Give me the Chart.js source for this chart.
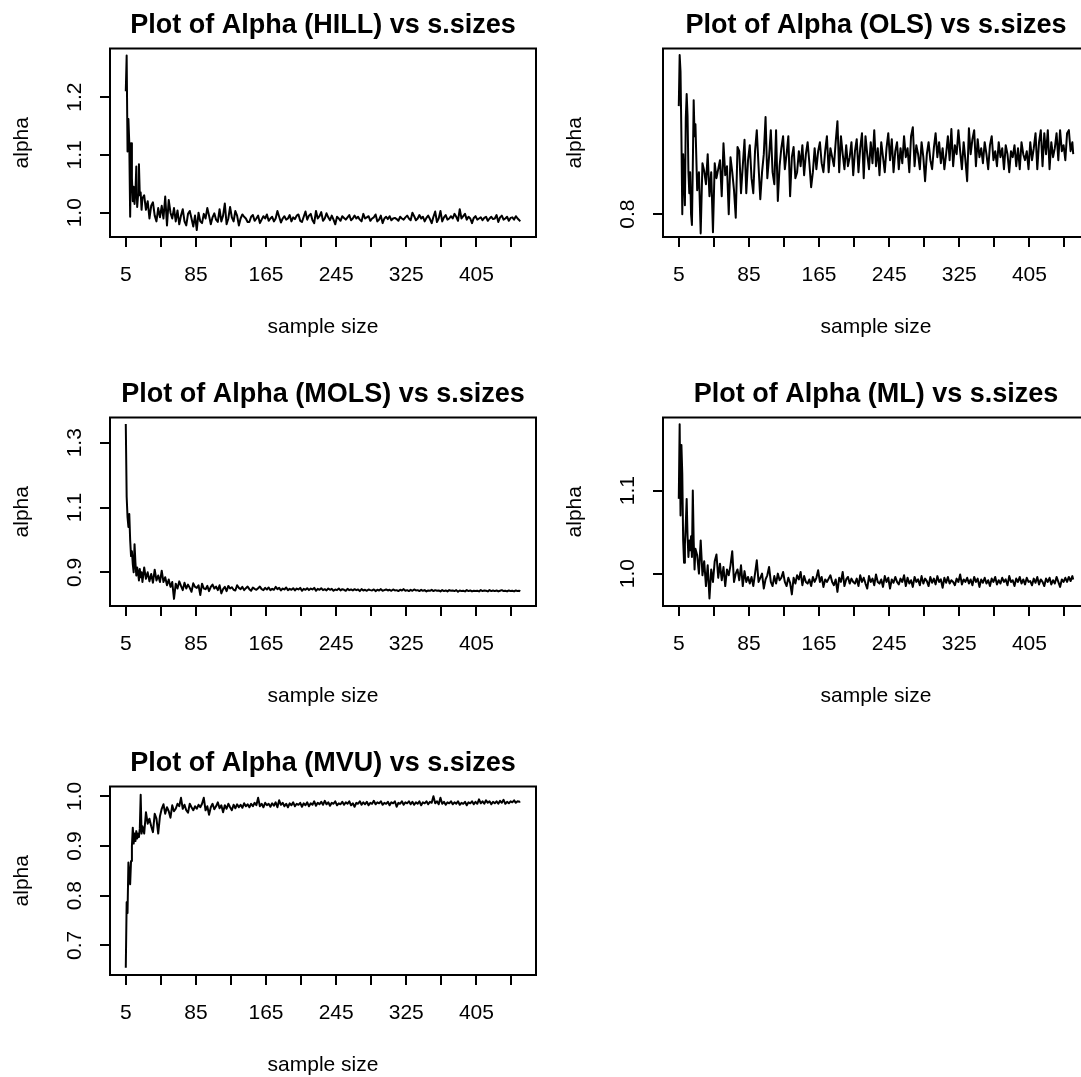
<!DOCTYPE html>
<html>
<head>
<meta charset="utf-8">
<title>Alpha vs s.sizes</title>
<script src="https://cdn.jsdelivr.net/npm/chart.js@4.4.1/dist/chart.umd.min.js"></script>
<style>
  html, body { margin: 0; padding: 0; background: #fff; overflow: hidden; }
  #lienzo { position: relative; width: 1081px; height: 1077px; overflow: hidden; background: #fff; }
  canvas { position: absolute; }
</style>
</head>
<body>
<div id="lienzo">
  <canvas id="pHill" width="545" height="369" style="left:0px;top:0px"></canvas>
  <canvas id="pOls" width="545" height="369" style="left:553px;top:0px"></canvas>
  <canvas id="pMols" width="545" height="369" style="left:0px;top:369px"></canvas>
  <canvas id="pMl" width="545" height="369" style="left:553px;top:369px"></canvas>
  <canvas id="pMvu" width="545" height="369" style="left:0px;top:738px"></canvas>
</div>
<script>
// Tamaños de muestra (eje x)
const tamanosMuestra = [
  5, 6, 7, 8, 9, 10, 11, 12, 13, 14,
  15, 16, 17, 18, 19, 20, 21, 22, 23, 24,
  26, 28, 30, 32, 34, 36, 38, 40, 42, 44,
  46, 48, 50, 52, 54, 56, 58, 60, 62, 64,
  66, 68, 70, 72, 74, 76, 78, 80, 82, 84,
  86, 88, 90, 92, 94, 96, 98, 100, 102, 104,
  106, 108, 110, 112, 114, 116, 118, 120, 122, 124,
  126, 128, 130, 132, 134, 136, 138, 140, 142, 144,
  146, 148, 150, 152, 154, 156, 158, 160, 162, 164,
  166, 168, 170, 172, 174, 176, 178, 180, 182, 184,
  186, 188, 190, 192, 194, 196, 198, 200, 202, 204,
  206, 208, 210, 212, 214, 216, 218, 220, 222, 224,
  226, 228, 230, 232, 234, 236, 238, 240, 242, 244,
  246, 248, 250, 252, 254, 256, 258, 260, 262, 264,
  266, 268, 270, 272, 274, 276, 278, 280, 282, 284,
  286, 288, 290, 292, 294, 296, 298, 300, 302, 304,
  306, 308, 310, 312, 314, 316, 318, 320, 322, 324,
  326, 328, 330, 332, 334, 336, 338, 340, 342, 344,
  346, 348, 350, 352, 354, 356, 358, 360, 362, 364,
  366, 368, 370, 372, 374, 376, 378, 380, 382, 384,
  386, 388, 390, 392, 394, 396, 398, 400, 402, 404,
  406, 408, 410, 412, 414, 416, 418, 420, 422, 424,
  426, 428, 430, 432, 434, 436, 438, 440, 442, 444,
  446, 448, 450, 452, 454,
  455
];

// Estimaciones de alpha
const alphaHill = [
  1.21, 1.272, 1.106, 1.162, 1.12, 0.993, 1.12, 1.06, 1.02, 1.045,
  1.015, 1.035, 1.08, 1.01, 1.03, 1.084, 1.03, 1.035, 1.005, 1.025,
  1.03, 1.005, 1.02, 0.99, 1.012, 1.018, 0.995, 0.985, 1.008, 0.992,
  1.012, 0.99, 1.028, 0.978, 1.022, 1.0, 0.99, 1.008, 0.985, 1.004,
  0.98, 0.995, 1.006, 0.985, 0.978, 0.998, 1.003, 0.99, 0.976, 0.995,
  0.97, 1.0, 0.985, 0.982, 0.998, 0.99, 1.008, 0.995, 0.98, 0.992,
  0.999, 0.988, 0.984, 1.006, 0.985, 0.995, 1.016, 0.98, 0.99, 1.01,
  0.992, 0.985, 1.003, 0.995, 0.978, 0.99, 0.997, 0.993, 0.99, 0.984,
  0.984, 0.993, 0.996, 0.986, 0.99, 0.995, 0.982, 0.988, 0.994, 0.99,
  0.997, 0.986, 0.99, 0.993, 0.985, 0.99, 1.003, 0.993, 0.983, 0.99,
  0.994, 0.988, 0.99, 0.996, 0.985, 0.992, 0.989, 0.995, 0.997, 0.986,
  0.984, 0.993, 1.002, 0.988, 0.995, 0.998, 0.987, 0.982, 1.003, 0.99,
  0.994, 1.001, 0.986, 0.99, 0.999, 0.992, 0.987, 0.995, 0.988, 0.98,
  0.993, 0.99, 0.986, 0.994, 0.991, 0.988, 0.992, 0.996, 0.987, 0.99,
  0.995, 0.99, 0.993, 0.988, 0.985, 0.998, 0.99, 0.992, 0.994, 0.986,
  0.99, 0.992, 0.997, 0.985, 0.988, 0.995, 0.982, 0.99, 0.993, 0.989,
  0.994, 0.987, 0.99, 0.991, 0.989, 0.986, 0.993, 0.99, 0.988, 0.992,
  0.995, 0.99, 0.987, 1.0, 0.994, 0.987, 0.99, 0.996, 0.99, 0.993,
  0.985, 0.991, 0.995, 0.989, 0.982, 0.993, 1.002, 0.984, 0.99, 1.003,
  0.985, 0.992, 0.996, 0.988, 0.99, 0.994, 0.99, 0.998, 0.993, 0.986,
  1.006, 0.99, 0.994, 0.998, 0.988, 0.993, 0.99, 0.982, 0.991, 0.994,
  0.988, 0.99, 0.992, 0.987, 0.991, 0.993, 0.986, 0.99, 0.993, 0.989,
  0.99, 0.996, 0.984, 0.992, 0.995, 0.988, 0.99, 0.993, 0.986, 0.991,
  0.992, 0.988, 0.994, 0.99, 0.987,
  0.985
];

const alphaOls = [
  0.98, 1.065, 1.037, 0.93, 0.80, 0.90, 0.86, 0.815, 0.96, 1.0,
  0.964, 0.87, 0.835, 0.87, 0.80, 0.782, 0.88, 0.99, 0.93, 0.95,
  0.84, 0.87, 0.768, 0.885, 0.872, 0.85, 0.90, 0.83, 0.87, 0.77,
  0.885, 0.86, 0.875, 0.89, 0.83, 0.918, 0.865, 0.88, 0.80, 0.895,
  0.87, 0.84, 0.794, 0.912, 0.905, 0.835, 0.88, 0.924, 0.835, 0.89,
  0.915, 0.86, 0.835, 0.905, 0.94, 0.88, 0.825, 0.87, 0.90, 0.962,
  0.86, 0.895, 0.94, 0.87, 0.85, 0.94, 0.822, 0.88, 0.91, 0.93,
  0.875, 0.90, 0.93, 0.83, 0.895, 0.912, 0.86, 0.87, 0.905, 0.88,
  0.915, 0.865, 0.90, 0.92, 0.885, 0.845, 0.87, 0.91, 0.875, 0.905,
  0.92, 0.885, 0.87, 0.905, 0.93, 0.87, 0.91, 0.895, 0.88, 0.92,
  0.955, 0.87, 0.93, 0.90, 0.875, 0.915, 0.88, 0.895, 0.92, 0.865,
  0.905, 0.925, 0.87, 0.91, 0.935, 0.86, 0.93, 0.90, 0.875, 0.92,
  0.885, 0.94, 0.88, 0.91, 0.865, 0.92, 0.895, 0.87, 0.91, 0.935,
  0.89, 0.925, 0.87, 0.905, 0.92, 0.875, 0.91, 0.885, 0.93, 0.895,
  0.91, 0.87, 0.93, 0.945, 0.88, 0.915, 0.90, 0.875, 0.92, 0.895,
  0.855, 0.90, 0.92, 0.89, 0.875, 0.91, 0.935, 0.895, 0.92, 0.885,
  0.91, 0.875, 0.90, 0.93, 0.89, 0.942, 0.88, 0.915, 0.90, 0.94,
  0.905, 0.875, 0.92, 0.89, 0.855, 0.943, 0.90, 0.925, 0.94, 0.88,
  0.925, 0.895, 0.91, 0.885, 0.92, 0.90, 0.875, 0.915, 0.93, 0.89,
  0.905, 0.88, 0.92, 0.895, 0.91, 0.875, 0.915, 0.90, 0.87, 0.905,
  0.895, 0.915, 0.88, 0.91, 0.875, 0.92, 0.90, 0.89, 0.905, 0.875,
  0.92, 0.89, 0.91, 0.935, 0.875, 0.92, 0.94, 0.88, 0.935, 0.90,
  0.94, 0.875, 0.92, 0.895, 0.91, 0.935, 0.89, 0.94, 0.905, 0.915,
  0.89, 0.935, 0.94, 0.905, 0.92,
  0.90
];

const alphaMols = [
  1.358, 1.134, 1.07, 1.04, 1.08, 1.0, 0.95, 0.965, 0.925, 0.90,
  0.987, 0.93, 0.89, 0.915, 0.90, 0.875, 0.91, 0.885, 0.90, 0.87,
  0.915, 0.88, 0.90, 0.872, 0.895, 0.868, 0.908, 0.875, 0.89, 0.87,
  0.905, 0.87, 0.885, 0.86, 0.878, 0.855, 0.87, 0.818, 0.865, 0.85,
  0.872, 0.858, 0.845, 0.868, 0.85, 0.862, 0.852, 0.84, 0.866, 0.855,
  0.852, 0.86, 0.83, 0.865, 0.85, 0.848, 0.858, 0.842, 0.855, 0.862,
  0.85, 0.856, 0.845, 0.86, 0.835, 0.848, 0.855, 0.842, 0.858, 0.85,
  0.854, 0.846, 0.844, 0.86, 0.852, 0.848, 0.855, 0.845, 0.851, 0.856,
  0.848, 0.843, 0.853, 0.849, 0.846, 0.851, 0.856, 0.848, 0.845, 0.852,
  0.847, 0.853, 0.845, 0.849, 0.846, 0.855, 0.848, 0.852, 0.844, 0.85,
  0.847, 0.853, 0.845, 0.849, 0.846, 0.851, 0.844, 0.85, 0.847, 0.852,
  0.843, 0.849, 0.846, 0.851, 0.845, 0.85, 0.847, 0.852, 0.843, 0.849,
  0.846, 0.851, 0.845, 0.848, 0.844, 0.85, 0.846, 0.849, 0.843, 0.847,
  0.845, 0.85, 0.844, 0.848, 0.846, 0.843, 0.849, 0.845, 0.847, 0.844,
  0.848, 0.845, 0.847, 0.842, 0.848, 0.844, 0.846, 0.843, 0.847, 0.845,
  0.844, 0.847, 0.842, 0.846, 0.844, 0.848, 0.843, 0.845, 0.847, 0.844,
  0.846, 0.843, 0.847, 0.844, 0.845, 0.842, 0.846, 0.844, 0.848, 0.843,
  0.845, 0.842, 0.846, 0.843, 0.847, 0.844, 0.845, 0.842, 0.846, 0.843,
  0.845, 0.841, 0.844, 0.843, 0.846, 0.842, 0.845, 0.843, 0.844, 0.841,
  0.845, 0.842, 0.844, 0.841, 0.845, 0.843, 0.844, 0.842, 0.845, 0.84,
  0.844, 0.842, 0.843, 0.841, 0.845, 0.842, 0.844, 0.841, 0.843, 0.842,
  0.843, 0.841, 0.845, 0.842, 0.844, 0.843, 0.841, 0.845, 0.842, 0.844,
  0.842, 0.844, 0.841, 0.843, 0.845, 0.842, 0.843, 0.841, 0.844, 0.842,
  0.843, 0.841, 0.844, 0.842, 0.843,
  0.841
];

const alphaMl = [
  1.09, 1.18, 1.07, 1.155, 1.12, 1.04, 1.013, 1.035, 1.06, 1.09,
  1.045, 1.02, 1.04, 1.028, 1.045, 1.02, 1.10, 1.04, 1.005, 1.03,
  1.022, 1.0, 1.04, 0.998, 1.015, 0.985, 1.01, 0.97, 1.005, 0.99,
  1.015, 1.023, 0.995, 1.012, 0.992, 1.008, 0.985, 1.005, 0.998, 1.01,
  1.027, 0.99, 1.0, 1.005, 0.992, 1.01, 0.985, 1.003, 0.99, 0.996,
  0.988, 0.996, 0.985, 1.0, 1.016, 0.99, 0.995, 1.0, 0.982, 0.993,
  0.998, 1.008, 0.99, 0.985, 0.997, 0.988, 1.0, 0.992, 0.995, 1.002,
  0.99, 0.985, 0.995, 0.989, 0.975, 0.995, 0.988, 0.998, 0.993, 1.002,
  0.986, 0.997, 0.99, 0.988, 0.993, 0.985, 0.996, 0.99, 0.995, 1.004,
  0.99, 0.996, 0.984, 0.993, 0.99, 0.994, 0.998, 0.99, 0.986, 0.993,
  0.978, 0.995, 0.99, 1.002, 0.985, 0.993, 0.996, 0.988, 0.994, 0.99,
  0.988, 0.994, 0.985, 0.998, 0.99, 0.995, 0.988, 0.982, 0.997, 0.99,
  0.994, 0.986, 0.999, 0.99, 0.988, 0.993, 0.984, 0.997, 0.99, 0.995,
  0.982, 0.993, 0.989, 0.996, 0.99, 0.987, 0.994, 0.99, 0.998, 0.985,
  0.995, 0.988, 0.992, 0.984, 0.996, 0.99, 0.993, 0.986, 0.997, 0.988,
  0.994, 0.991, 0.985, 0.996, 0.989, 0.994, 0.987, 0.997, 0.99, 0.993,
  0.983, 0.995, 0.989, 0.996, 0.988, 0.992, 0.99, 0.986, 0.994, 0.99,
  0.999, 0.987, 0.993, 0.99, 0.995, 0.988, 0.993, 0.986, 0.996, 0.99,
  0.994, 0.984, 0.993, 0.989, 0.995, 0.988, 0.992, 0.985, 0.994, 0.99,
  0.996, 0.987, 0.992, 0.988, 0.995, 0.99, 0.993, 0.986, 0.997, 0.99,
  0.992, 0.985, 0.994, 0.99, 0.996, 0.988, 0.993, 0.987, 0.995, 0.99,
  0.991, 0.986, 0.994, 0.989, 0.996, 0.987, 0.993, 0.99, 0.985, 0.994,
  0.99, 0.995, 0.987, 0.992, 0.988, 0.996, 0.99, 0.984, 0.993, 0.99,
  0.995, 0.99, 0.996, 0.991, 0.997,
  0.993
];

const alphaMvu = [
  0.655, 0.787, 0.765, 0.867, 0.845, 0.823, 0.87, 0.90, 0.937, 0.905,
  0.925, 0.91, 0.93, 0.915, 0.925, 0.918, 0.935, 1.003, 0.925, 0.94,
  0.925, 0.968, 0.945, 0.955, 0.94, 0.928, 0.965, 0.955, 0.925, 0.96,
  0.975, 0.984, 0.965, 0.978, 0.97, 0.957, 0.982, 0.97, 0.975, 0.985,
  0.98, 0.997, 0.975, 0.983, 0.972, 0.967, 0.985, 0.978, 0.972, 0.98,
  0.975, 0.983, 0.978, 0.985, 0.997, 0.972, 0.98, 0.963, 0.978, 0.985,
  0.974, 0.98, 0.988, 0.976, 0.982, 0.968, 0.982, 0.975, 0.985, 0.978,
  0.972, 0.983, 0.976, 0.984, 0.978, 0.983, 0.977, 0.986, 0.98, 0.984,
  0.978, 0.985, 0.98, 0.987, 0.982, 0.997, 0.98, 0.985, 0.978, 0.987,
  0.982, 0.985, 0.979, 0.986, 0.981, 0.988, 0.978, 0.992, 0.983, 0.987,
  0.98, 0.985, 0.978, 0.986, 0.982, 0.988, 0.98, 0.985, 0.983, 0.987,
  0.979, 0.986, 0.982, 0.988, 0.98, 0.986, 0.983, 0.99, 0.981, 0.987,
  0.984, 0.989, 0.983, 0.991, 0.984, 0.988, 0.981, 0.987, 0.985, 0.99,
  0.982, 0.986, 0.984, 0.989, 0.983, 0.988, 0.985, 0.99, 0.982, 0.986,
  0.979, 0.987, 0.985, 0.99, 0.983, 0.988, 0.984, 0.989, 0.982, 0.987,
  0.985, 0.991, 0.984, 0.988, 0.986, 0.99, 0.983, 0.987, 0.985, 0.989,
  0.982, 0.988, 0.986, 0.99, 0.979, 0.987, 0.985, 0.99, 0.983, 0.988,
  0.986, 0.99, 0.984, 0.989, 0.983, 0.988, 0.985, 0.99, 0.982, 0.988,
  0.986, 0.99, 0.984, 0.989, 0.987, 1.0, 0.986, 0.99, 0.984, 0.997,
  0.985, 0.989, 0.983, 0.988, 0.986, 0.99, 0.984, 0.988, 0.985, 0.99,
  0.983, 0.987, 0.985, 0.989, 0.982, 0.988, 0.986, 0.99, 0.984, 0.989,
  0.985, 0.994, 0.986, 0.99, 0.985, 0.992, 0.987, 0.99, 0.984, 0.989,
  0.986, 0.99, 0.985, 0.991, 0.987, 0.993, 0.985, 0.989, 0.986, 0.99,
  0.988, 0.992, 0.987, 0.99, 0.989,
  0.99
];

// Marcas del eje x (solo algunas llevan etiqueta, como en R)
const marcasX = [5, 45, 85, 125, 165, 205, 245, 285, 325, 365, 405, 445];
const etiquetasX = [5, 85, 165, 245, 325, 405];

// Marcas del eje y de cada panel
const marcasHill = [1.0, 1.1, 1.2];
const marcasOls = [0.8];
const marcasMols = [0.9, 1.1, 1.3];
const marcasMl = [1.0, 1.1];
const marcasMvu = [0.7, 0.8, 0.9, 1.0];

const FUENTE = '"Liberation Sans", Arial, Helvetica, sans-serif';
const TAM_TEXTO = 21;

// Marco negro alrededor del área de trazado
const marcoPlugin = {
  id: 'marco',
  afterDatasetsDraw(chart) {
    const { ctx, chartArea: a } = chart;
    ctx.save();
    ctx.strokeStyle = '#000';
    ctx.lineWidth = 2;
    ctx.strokeRect(a.left, a.top, a.right - a.left, a.bottom - a.top);
    ctx.restore();
  }
};

function crearPanel(idCanvas, titulo, valores, yMin, yMax, marcasY) {
  const puntos = tamanosMuestra.map((n, i) => ({ x: n, y: valores[i] }));
  const fuenteEje = { family: FUENTE, size: TAM_TEXTO };

  return new Chart(document.getElementById(idCanvas), {
    type: 'line',
    data: {
      datasets: [{
        data: puntos,
        borderColor: '#000',
        borderWidth: 2,
        borderJoinStyle: 'round',
        pointRadius: 0,
        tension: 0,
        fill: false
      }]
    },
    options: {
      responsive: false,
      animation: false,
      layout: { padding: { left: 0, top: 0, right: 9, bottom: 0 } },
      plugins: {
        legend: { display: false },
        tooltip: { enabled: false },
        title: {
          display: true,
          text: titulo,
          fullSize: false,
          color: '#000',
          font: { family: FUENTE, size: 27, weight: 'bold' },
          padding: { top: 9.2, bottom: 6.9 }
        }
      },
      scales: {
        x: {
          type: 'linear',
          min: -13,
          max: 473,
          afterFit: (s) => { s.height = 132; },
          afterBuildTicks: (s) => { s.ticks = marcasX.map(v => ({ value: v })); },
          grid: { drawOnChartArea: false, drawTicks: true, tickLength: 10, color: '#000', lineWidth: 2 },
          border: { display: false },
          ticks: {
            autoSkip: false,
            maxRotation: 0,
            padding: 15.4,
            color: '#000',
            font: fuenteEje,
            callback: (v) => etiquetasX.includes(v) ? String(v) : ''
          },
          title: {
            display: true,
            text: 'sample size',
            color: '#000',
            font: fuenteEje,
            padding: { top: 0, bottom: 29.4 }
          }
        },
        y: {
          min: yMin,
          max: yMax,
          afterFit: (s) => { s.width = 110; },
          afterBuildTicks: (s) => { s.ticks = marcasY.map(v => ({ value: v })); },
          grid: { drawOnChartArea: false, drawTicks: true, tickLength: 10, color: '#000', lineWidth: 2 },
          border: { display: false },
          ticks: {
            minRotation: 90,
            maxRotation: 90,
            crossAlign: 'center',
            padding: 10.4,
            color: '#000',
            font: fuenteEje,
            callback: (v) => Number(v).toFixed(1)
          },
          title: {
            display: true,
            text: 'alpha',
            color: '#000',
            font: fuenteEje,
            padding: { top: 9.4, bottom: 0 }
          }
        }
      }
    },
    plugins: [marcoPlugin]
  });
}

crearPanel('pHill', 'Plot of Alpha (HILL) vs s.sizes', alphaHill, 0.958, 1.284, marcasHill);
crearPanel('pOls', 'Plot of Alpha (OLS) vs s.sizes', alphaOls, 0.762, 1.076, marcasOls);
crearPanel('pMols', 'Plot of Alpha (MOLS) vs s.sizes', alphaMols, 0.796, 1.378, marcasMols);
crearPanel('pMl', 'Plot of Alpha (ML) vs s.sizes', alphaMl, 0.961, 1.188, marcasMl);
crearPanel('pMvu', 'Plot of Alpha (MVU) vs s.sizes', alphaMvu, 0.6405, 1.0198, marcasMvu);
</script>
</body>
</html>
